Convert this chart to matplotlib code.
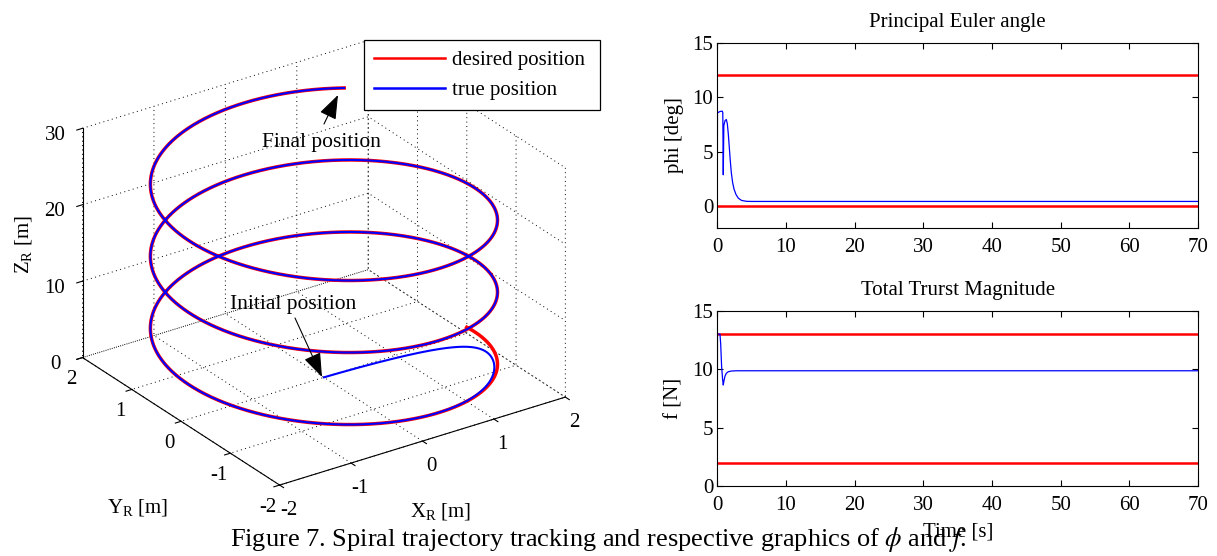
import numpy as np
import matplotlib
matplotlib.use('Agg')
import matplotlib.pyplot as plt

plt.rcParams['font.family'] = ['Liberation Serif', 'DejaVu Serif']
plt.rcParams['mathtext.fontset'] = 'stix'
plt.rcParams['axes.unicode_minus'] = False
plt.rcParams['grid.color'] = 'black'
plt.rcParams['grid.linestyle'] = ':'
plt.rcParams['grid.linewidth'] = 0.6
plt.rcParams['axes.linewidth'] = 0.8

# ---------------- data ----------------
# desired spiral
spiral_radius = 2.0
spiral_theta_deg = [0.0, -1031.3]      # start / end phase
spiral_z = [0.8, 27.8]                 # start / end height
sim_time = [0.0, 70.0]
# true trajectory: starts at origin and converges to the spiral
true_start = [0.0, 0.0, 0.0]
conv_tau = [0.3, 0.8, 0.5]             # convergence time constants x, y, z

# principal Euler angle
phi_t = [0, 0.02, 0.1, 0.39, 0.73, 0.8, 0.87, 0.95, 1.12, 1.31, 1.46, 1.6,
         1.75, 1.89, 2.04, 2.23, 2.43, 2.72, 3.06, 3.54, 4.27, 5.0, 70]
phi_v = [0, 8.6, 8.6, 8.7, 8.73, 8.6, 2.9, 7.4, 7.85, 7.97, 7.57, 6.66,
         5.4, 4.2, 3.1, 2.2, 1.6, 1.1, 0.76, 0.55, 0.47, 0.46, 0.46]
phi_limits = [12.0, 0.0]

# total thrust magnitude
f_t = [0, 0.02, 0.39, 0.49, 0.63, 0.78, 0.87, 0.97, 1.12, 1.31, 1.6, 2.1, 2.8, 70]
f_v = [0, 13.0, 13.0, 12.2, 10.2, 9.07, 8.64, 9.0, 9.4, 9.64, 9.78, 9.84, 9.86, 9.86]
f_limits = [13.0, 2.0]

xyz_ticks = [-2, -1, 0, 1, 2]
z_ticks = [0, 10, 20, 30]
t_ticks = [0, 10, 20, 30, 40, 50, 60, 70]
phi_ticks = [0, 5, 10, 15]
f_ticks = [0, 5, 10, 15]

# ---------------- build trajectories ----------------
t = np.linspace(sim_time[0], sim_time[1], 5000)
th0, th1 = np.deg2rad(spiral_theta_deg)
dth = (th1 - th0) / (sim_time[1] - sim_time[0])
dz = (spiral_z[1] - spiral_z[0]) / (sim_time[1] - sim_time[0])
th = th0 + dth * t
des = np.column_stack([spiral_radius * np.cos(th), spiral_radius * np.sin(th),
                       spiral_z[0] + dz * t])
v0 = np.array([-spiral_radius * np.sin(th0) * dth, spiral_radius * np.cos(th0) * dth, dz])
e0 = np.array(true_start) - des[0]
e0d = -v0
tau = np.array(conv_tau)
err = (e0 + (e0d + e0 / tau) * t[:, None]) * np.exp(-t[:, None] / tau)
true = des + err

W, H = 1217, 556
fig = plt.figure(figsize=(W / 100, H / 100), dpi=100)

# ---------------- 3D axes ----------------
ax = fig.add_axes([0.0, 0.0, 0.5, 1.0], projection='3d')
ax.set_proj_type('ortho')
ax.set_box_aspect((1.355, 1.355, 1.0))
ax.view_init(elev=26.5, azim=-124.6)
ln_d, = ax.plot(des[:, 0], des[:, 1], des[:, 2], color='red', lw=2.5, label='desired position')
ln_t, = ax.plot(true[:, 0], true[:, 1], true[:, 2], color='blue', lw=1.5, label='true position')
ax.set_xlim(-2, 2); ax.set_ylim(-2, 2); ax.set_zlim(0, 30)
ax.set_xticks(xyz_ticks); ax.set_yticks(xyz_ticks); ax.set_zticks(z_ticks)
ax.tick_params(labelsize=15)
ax.tick_params(axis='x', pad=1)
ax.tick_params(axis='y', pad=0)
for a in (ax.xaxis, ax.yaxis, ax.zaxis):
    a.set_pane_color((1, 1, 1, 0))
    a._axinfo['grid'].update(color='k', linestyle=(0, (1, 3.5)), linewidth=0.7)
    a._axinfo['tick']['inward_factor'] = 0.25
    a._axinfo['tick']['outward_factor'] = 0.0
    a._axinfo['axisline']['color'] = 'k'
    a.line.set_color('k')
    a.line.set_linewidth(0.8)
ax.patch.set_visible(False)

fig.canvas.draw()

def to_px(pts):
    P = np.column_stack([pts, np.ones(len(pts))]) @ ax.M.T
    xy = P[:, :2] / P[:, 3:4]
    return ax.transData.transform(xy)

corners = np.array([[-2, 2, 0], [-2, -2, 0], [2, -2, 0], [-2, 2, 30]], float)
targets = np.array([[82, 357], [280, 485], [565, 398], [83, 128]], float)
targets[:, 1] = H - targets[:, 1]
bb = ax.get_position()
S0 = bb.width * W
c0 = np.array([(bb.x0 + bb.width / 2) * W, (bb.y0 + bb.height / 2) * H])
uv = (to_px(corners) - c0) / S0
A = []; b = []
for (u, v), (tx, ty) in zip(uv, targets):
    A.append([1, 0, u]); b.append(tx)
    A.append([0, 1, v]); b.append(ty)
cx, cy, S = np.linalg.lstsq(np.array(A), np.array(b), rcond=None)[0]
ax.set_position([(cx - S / 2) / W, (cy - S / 2) / H, S / W, S / H])

leg = fig.legend([ln_d, ln_t], ['desired position', 'true position'],
                 loc='upper left', bbox_to_anchor=(364 / W, 1 - 108 / H, 236 / W, 68 / H),
                 mode='expand', bbox_transform=fig.transFigure, frameon=True, fancybox=False,
                 edgecolor='k', framealpha=1, borderaxespad=0, fontsize=15,
                 handlelength=3.4, handletextpad=0.3, labelspacing=0.5, borderpad=0.5)
leg.get_frame().set_linewidth(0.9)
for h in leg.get_lines():
    h.set_linewidth(1.8)

# ---------------- right panels ----------------
def style2d(a):
    a.tick_params(direction='in', top=True, right=True, length=4, width=0.8,
                  labelsize=15)
    a.tick_params(axis='x', pad=7)
    a.tick_params(axis='y', pad=3)
    a.set_xlim(0, 70)
    a.set_xticks(t_ticks)

ax1 = fig.add_axes([717.3 / W, 1 - 228.3 / H, 480.7 / W, 185.6 / H])
ax1.plot([0, 70], [phi_limits[0]] * 2, color='red', lw=1.8)
ax1.plot([0, 70], [phi_limits[1]] * 2, color='red', lw=1.8)
ax1.plot(phi_t, phi_v, color='blue', lw=0.9)
style2d(ax1)
ax1.set_ylim(-2, 15); ax1.set_yticks(phi_ticks)
ax1.set_title('Principal Euler angle', fontsize=15, pad=11)
ax1.set_ylabel('phi [deg]', fontsize=15, labelpad=6)

ax2 = fig.add_axes([717.3 / W, 1 - 486 / H, 480.7 / W, 175.3 / H])
ax2.plot([0, 70], [f_limits[0]] * 2, color='red', lw=1.8)
ax2.plot([0, 70], [f_limits[1]] * 2, color='red', lw=1.8)
ax2.plot(f_t, f_v, color='blue', lw=0.9)
style2d(ax2)
ax2.set_ylim(0, 15); ax2.set_yticks(f_ticks)
ax2.set_title('Total Trurst Magnitude', fontsize=15, pad=11)
ax2.set_ylabel('f [N]', fontsize=15, labelpad=6)

# ---------------- overlay (pixel coords, y down) ----------------
ov = fig.add_axes([0, 0, 1, 1], zorder=10)
ov.set_xlim(0, W); ov.set_ylim(H, 0); ov.axis('off')
ap = dict(arrowstyle='-|>,head_length=1.5,head_width=0.55', lw=0.8, color='k',
          shrinkA=0, shrinkB=0, mutation_scale=10)
ov.annotate('', xy=(338, 95), xytext=(324, 124), arrowprops=ap)
ov.annotate('', xy=(322, 377), xytext=(295, 318), arrowprops=ap)
ov.text(321, 142, 'Final position', fontsize=15.5, ha='center', va='center')
ov.text(293, 305, 'Initial position', fontsize=15.5, ha='center', va='center')
ov.text(24, 245, r'$\mathregular{Z_R}$ [m]', fontsize=15, rotation=90, ha='center', va='center')
ov.text(138, 513, r'$\mathregular{Y_R}$ [m]', fontsize=15, ha='center', va='baseline')
ov.text(441, 517, r'$\mathregular{X_R}$ [m]', fontsize=15, ha='center', va='baseline')
ov.text(958, 532, 'Time [s]', fontsize=15, ha='center', va='center')
ov.text(598, 540, r'Figure 7. Spiral trajectory tracking and respective graphics of $\phi$ and $f$.',
        fontsize=19, ha='center', va='center')

fig.savefig('out.png', dpi=100)
